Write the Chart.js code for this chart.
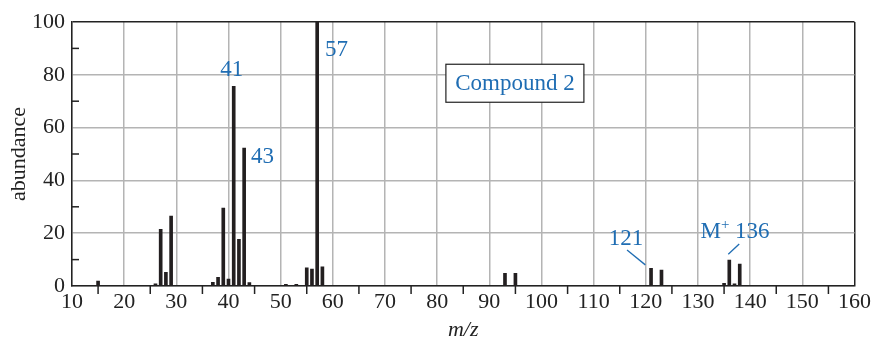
<!DOCTYPE html>
<html>
<head>
<meta charset="utf-8">
<script src="https://cdn.jsdelivr.net/npm/chart.js@4"></script>
<style>
  html, body { margin: 0; padding: 0; background: #fff; }
  #wrap { width: 874px; height: 341px; }
</style>
</head>
<body>
<div id="wrap"><canvas id="ms"></canvas></div>
<script>
// mass spectrum of compound 2
const mzValues = [15, 26, 27, 28, 29, 37, 38, 39, 40, 41, 42, 43, 44, 51, 53, 55, 56, 57, 58, 93, 95, 121, 123, 135, 136, 137, 138];
const abundance = [1.9, 0.8, 21.5, 5.2, 26.5, 1.4, 3.3, 29.5, 2.6, 75.6, 17.7, 52.2, 1.3, 0.6, 0.6, 6.9, 6.4, 100, 7.3, 4.8, 4.8, 6.7, 6.0, 1.0, 9.8, 0.8, 8.3];
const xTicks = [10, 20, 30, 40, 50, 60, 70, 80, 90, 100, 110, 120, 130, 140, 150, 160];
const yTicks = [0, 20, 40, 60, 80, 100];

// peak labels: text, x, y (data units)
const peakLabels = [
    { text: '41', x: 40.6, y: 81.8 },
    { text: '43', x: 46.5, y: 48.9 },
    { text: '57', x: 60.7, y: 89.4 },
    { text: '121', x: 116.2, y: 17.8 }
];
const leaderLines = [
    [116.4, 13.6, 119.9, 8.0],
    [137.9, 15.9, 135.8, 12.0]
];

const blue = '#1f6db3';
const gridGray = '#b4b4b4';
const serif = '"Liberation Serif", "DejaVu Serif", serif';

const extras = {
    id: 'extras',
    afterDraw(chart) {
        const ctx = chart.ctx;
        const xs = chart.scales.x, ys = chart.scales.y;
        const area = chart.chartArea;
        ctx.save();
        // minor ticks
        ctx.strokeStyle = '#222';
        ctx.lineWidth = 1.5;
        for (let v = 15; v < 160; v += 10) {
            let px = xs.getPixelForValue(v);
            ctx.beginPath();
            ctx.moveTo(px, area.bottom);
            ctx.lineTo(px, area.bottom + 8);
            ctx.stroke();
        }
        for (let v = 10; v < 100; v += 20) {
            let py = ys.getPixelForValue(v);
            ctx.beginPath();
            ctx.moveTo(area.left, py);
            ctx.lineTo(area.left + 7, py);
            ctx.stroke();
        }
        // annotations
        ctx.fillStyle = blue;
        ctx.font = '23px ' + serif;
        ctx.textAlign = 'center';
        ctx.textBaseline = 'middle';
        peakLabels.forEach(l => {
            ctx.fillText(l.text, xs.getPixelForValue(l.x), ys.getPixelForValue(l.y));
        });
        // M+ 136
        let mx = xs.getPixelForValue(137.1), my = ys.getPixelForValue(20.5);
        ctx.textAlign = 'left';
        let w1 = ctx.measureText('M').width;
        ctx.font = '15px ' + serif;
        let w2 = ctx.measureText('+').width;
        ctx.font = '23px ' + serif;
        let w3 = ctx.measureText(' 136').width;
        let start = mx - (w1 + w2 + w3) / 2;
        ctx.fillText('M', start, my);
        ctx.font = '15px ' + serif;
        ctx.fillText('+', start + w1, my - 7);
        ctx.font = '23px ' + serif;
        ctx.fillText(' 136', start + w1 + w2, my);

        ctx.strokeStyle = blue;
        ctx.lineWidth = 1.3;
        leaderLines.forEach(l => {
            ctx.beginPath();
            ctx.moveTo(xs.getPixelForValue(l[0]), ys.getPixelForValue(l[1]));
            ctx.lineTo(xs.getPixelForValue(l[2]), ys.getPixelForValue(l[3]));
            ctx.stroke();
        });

        // Compound 2 box
        let bx = xs.getPixelForValue(94.9), by = ys.getPixelForValue(76.8);
        ctx.textAlign = 'center';
        ctx.fillStyle = '#fff';
        ctx.fillRect(bx - 69, by - 19, 138, 38);
        ctx.strokeStyle = '#222';
        ctx.lineWidth = 1.2;
        ctx.strokeRect(bx - 69, by - 19, 138, 38);
        ctx.fillStyle = blue;
        ctx.fillText('Compound 2', bx, by + 1);
        ctx.restore();
    }
};

new Chart(document.getElementById('ms'), {
    type: 'bar',
    data: {
        datasets: [{
            data: mzValues.map((m, i) => ({ x: m, y: abundance[i] })),
            backgroundColor: '#231f20',
            barThickness: 3
        }]
    },
    options: {
        responsive: true,
        maintainAspectRatio: false,
        animation: false,
        layout: { padding: { top: 22, right: 17, left: 0, bottom: 0 } },
        plugins: { legend: { display: false }, tooltip: { enabled: false } },
        scales: {
            x: {
                type: 'linear',
                min: 10,
                max: 160,
                offset: false,
                afterFit: s => { s.height = 55; },
                afterBuildTicks: s => { s.ticks = xTicks.map(v => ({ value: v })); },
                ticks: { color: '#222', font: { family: serif, size: 22 }, padding: 3, maxRotation: 0, autoSkip: false },
                grid: {
                    offset: false,
                    drawTicks: false,
                    lineWidth: 1.5,
                    color: c => c.tick && c.tick.value === 160 ? '#222' : gridGray
                },
                border: { color: '#222', width: 1.5 },
                title: { display: true, text: 'm/z', font: { family: serif, size: 22, style: 'italic' }, color: '#222', padding: { top: 0, bottom: -2.5 } }
            },
            y: {
                min: 0,
                max: 100,
                afterFit: s => { s.width = 72; },
                afterBuildTicks: s => { s.ticks = yTicks.map(v => ({ value: v })); },
                ticks: { color: '#222', font: { family: serif, size: 22 }, padding: 7 },
                grid: {
                    drawTicks: false,
                    lineWidth: 1.5,
                    color: c => c.tick && c.tick.value === 100 ? '#222' : gridGray
                },
                border: { color: '#222', width: 1.5 },
                title: { display: true, text: 'abundance', font: { family: serif, size: 22 }, color: '#222', padding: { top: 6, bottom: 0 } }
            }
        }
    },
    plugins: [extras]
});
</script>
</body>
</html>
